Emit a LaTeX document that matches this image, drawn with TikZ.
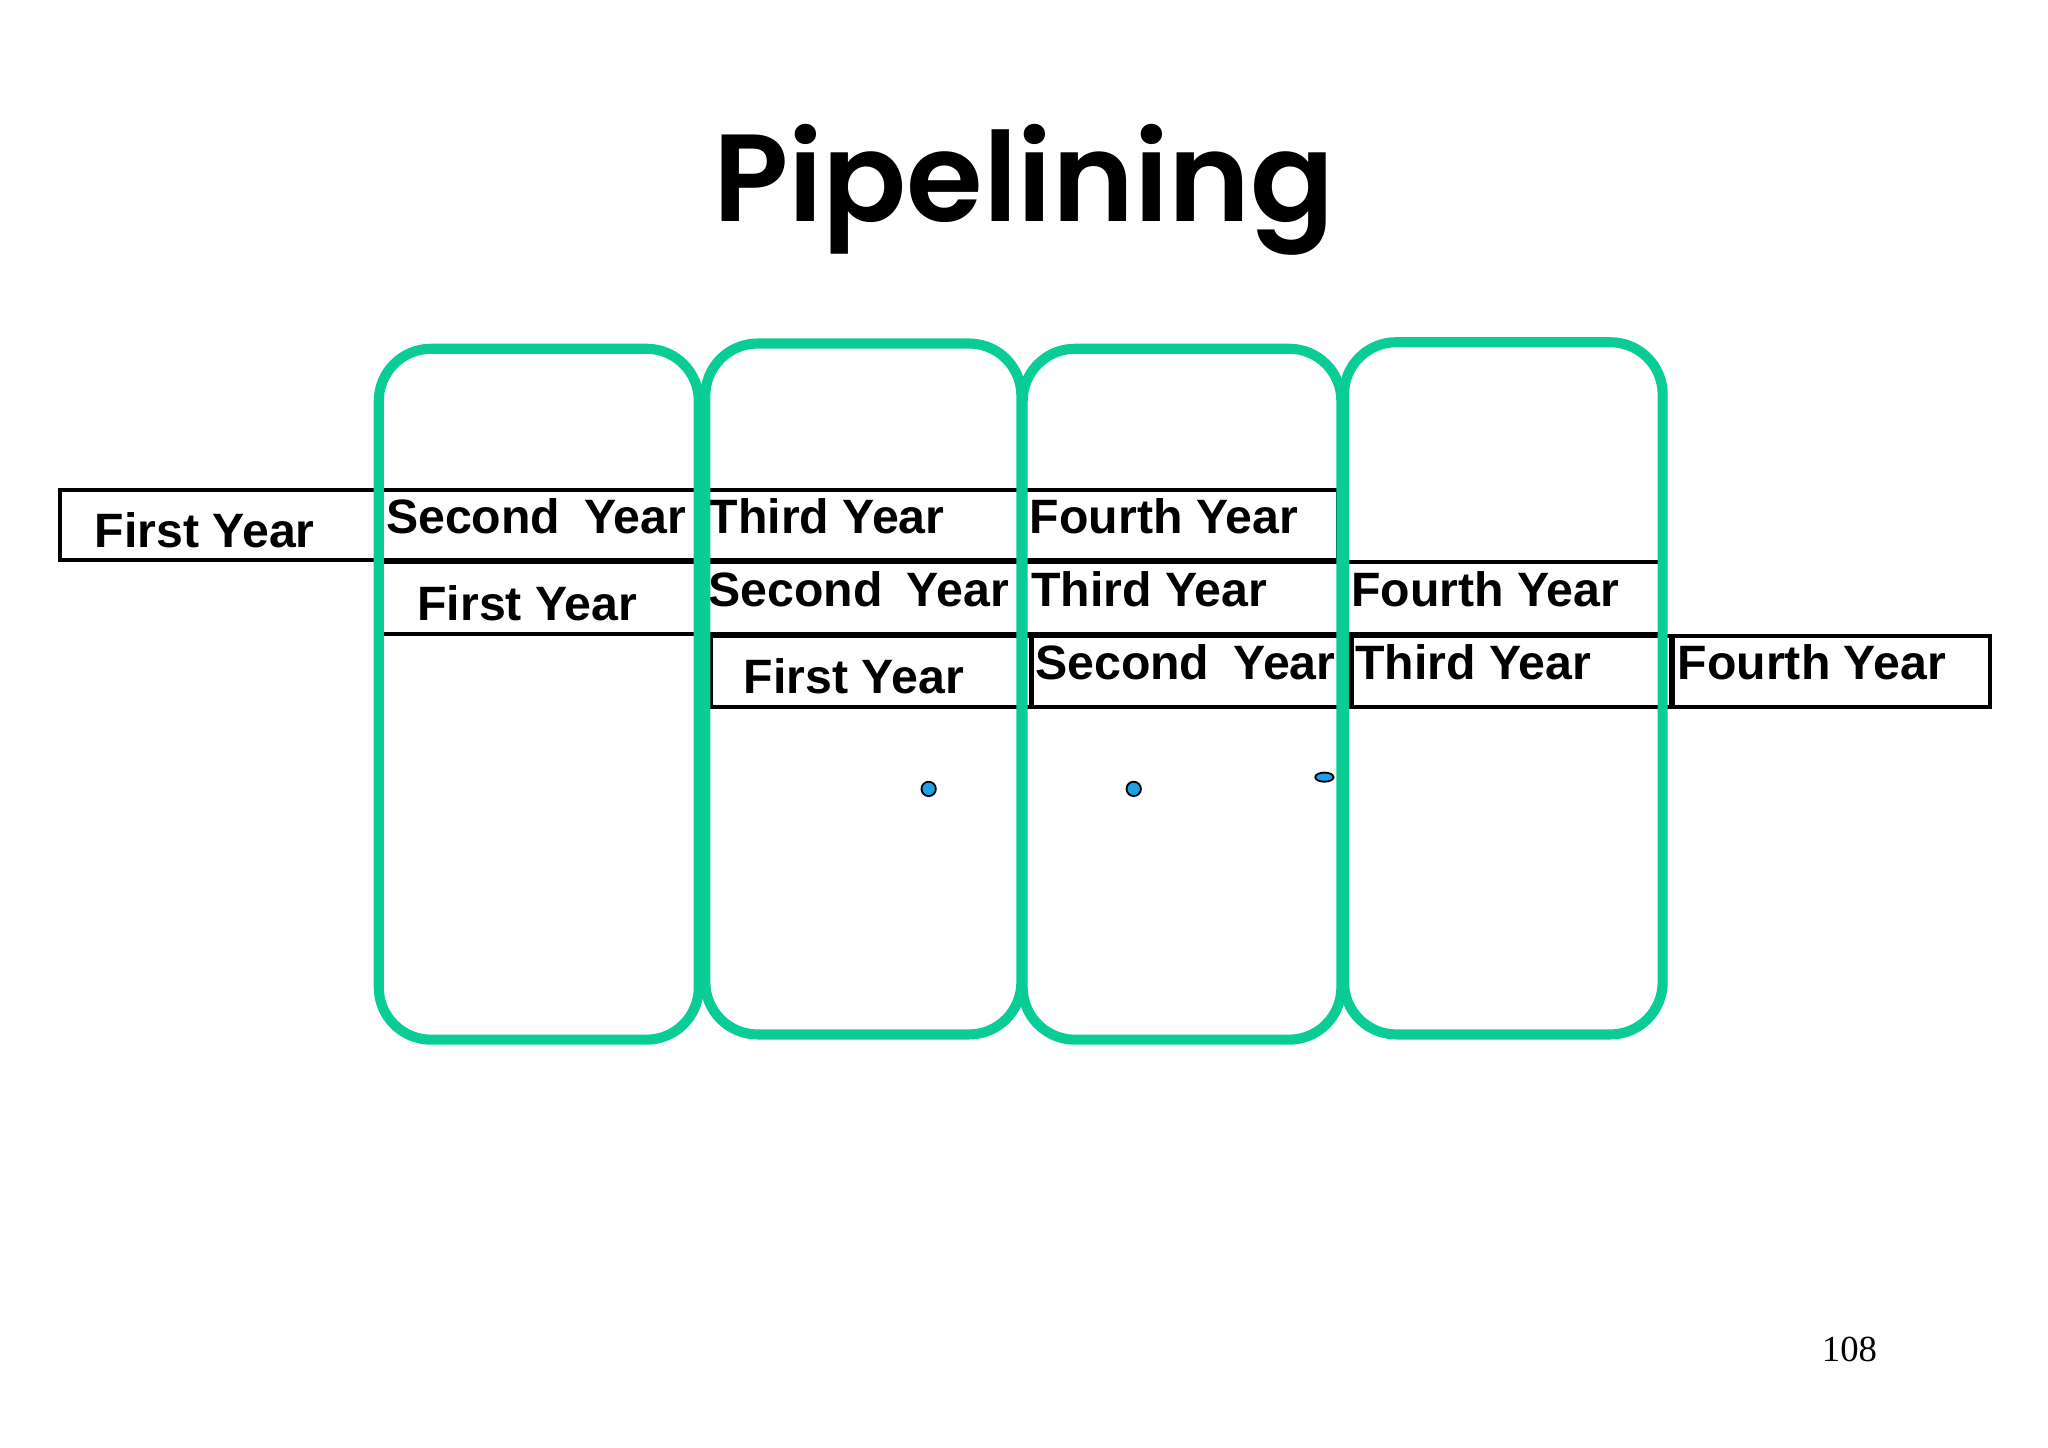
\documentclass[tikz,border=0pt]{standalone}
\usepackage{fontspec}
\setmainfont{Liberation Sans}
\newfontfamily\titlefont{Poppins SemiBold}
\newfontfamily\numfont{Liberation Serif}
\definecolor{grn}{RGB}{10,204,150}
\definecolor{dotc}{RGB}{30,160,230}
\begin{document}
\begin{tikzpicture}[x=0.01cm,y=-0.01cm,
 cell/.style={draw=black,line width=0.9pt,minimum height=0.54cm,inner sep=0pt,font=\fontsize{10.5}{13}\selectfont\bfseries},
 stage/.style={draw=grn,line width=2.2pt,rounded corners=0.4cm},
 dotn/.style={draw=black,fill=dotc,line width=0.4pt,circle,inner sep=0pt,minimum size=0.11cm}]
\useasboundingbox (0,0) rectangle (1568,1108);
\node[font=\titlefont\fontsize{27}{31}\selectfont] (title) at (784,145) {Pipelining};
% row 1
\node[cell,minimum width=2.44cm] (a1) at (168,402) {};
\node[anchor=west,cell,draw=none] at (71,406) {First Year};
\node[cell,minimum width=2.45cm,anchor=west] (a2) at (290,402) {};
\node[anchor=west,cell,draw=none] at (294,395) {Second\enspace Year};
\node[cell,minimum width=2.45cm,anchor=west] (a3) at (535,402) {};
\node[anchor=west,cell,draw=none] at (541,395) {Third Year};
\node[cell,minimum width=2.43cm,anchor=west] (a4) at (780,402) {};
\node[anchor=west,cell,draw=none] at (787,395) {Fourth Year};
% row 2
\node[cell,minimum width=2.45cm,minimum height=0.55cm,anchor=west] (b1) at (290,458) {};
\node[anchor=west,cell,draw=none] at (318,462) {First Year};
\node[cell,minimum width=2.45cm,minimum height=0.55cm,anchor=west] (b2) at (535,458) {};
\node[anchor=west,cell,draw=none] at (541,451) {Second\enspace Year};
\node[cell,minimum width=2.45cm,minimum height=0.55cm,anchor=west] (b3) at (780,458) {};
\node[anchor=west,cell,draw=none] at (788,451) {Third Year};
\node[cell,minimum width=2.45cm,minimum height=0.55cm,anchor=west] (b4) at (1025,458) {};
\node[anchor=west,cell,draw=none] at (1033,451) {Fourth Year};
% row 3
\node[cell,minimum width=2.45cm,anchor=west] (c1) at (543,514) {};
\node[anchor=west,cell,draw=none] at (568,518) {First Year};
\node[cell,minimum width=2.45cm,anchor=west] (c2) at (788,514) {};
\node[anchor=west,cell,draw=none] at (791,507) {Second\enspace Year};
\node[cell,minimum width=2.45cm,anchor=west] (c3) at (1033,514) {};
\node[anchor=west,cell,draw=none] at (1036,507) {Third Year};
\node[cell,minimum width=2.43cm,anchor=west] (c4) at (1279,514) {};
\node[anchor=west,cell,draw=none] at (1283,507) {Fourth Year};
% stages
\draw[stage] (290,267) rectangle (535,796);
\draw[stage] (540,263) rectangle (782,792);
\draw[stage] (783,267) rectangle (1027,796);
\draw[stage] (1029,262) rectangle (1273,792);
% dots
\node[dotn] (d1) at (711,604) {};
\node[dotn] (d2) at (868,604) {};
\draw[fill=dotc,line width=0.4pt] (1014,595) ellipse (0.07cm and 0.035cm);
\node[font=\numfont\fontsize{8}{10}\selectfont] (pg) at (1416,1033) {108};
\end{tikzpicture}
\end{document}
